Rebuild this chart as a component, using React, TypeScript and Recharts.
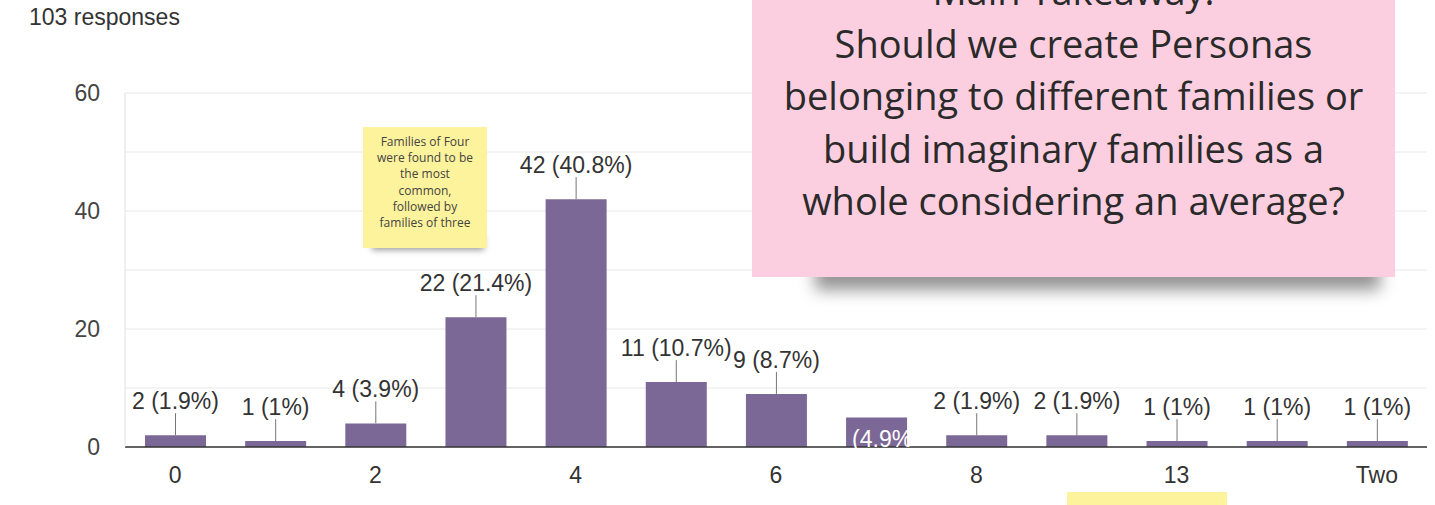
import { BarChart, Bar, XAxis, YAxis, CartesianGrid, LabelList } from "recharts";

const categories = ["0", "1", "2", "3", "4", "5", "6", "7", "8", "10", "13", "Three", "Two"];
const counts = [2, 1, 4, 22, 42, 11, 9, 5, 2, 2, 1, 1, 1];
const yTicks = [0, 10, 20, 30, 40, 50, 60];
const totalResponses = 103;
const noteLines = [
  "Main Takeaway:",
  "Should we create Personas",
  "belonging to different families or",
  "build imaginary families as a",
  "whole considering an average?",
];
const yellowNoteLines = [
  "Families of Four",
  "were found to be",
  "the most",
  "common,",
  "followed by",
  "families of three",
];

const data = categories.map((c, i) => ({ name: c, count: counts[i] }));

const pct = (v: number) => {
  const p = Math.round((v / totalResponses) * 1000) / 10;
  return `${p}%`;
};

const BAR_COLOR = "#7b6896";
const FONT = "Arial, 'Liberation Sans', sans-serif";

function BarLabel(props: any) {
  const { x, y, width, height, value, index } = props;
  const cx = x + width / 2;
  if (index === 7) {
    // in the original this label ended up inside the bar, partly hidden
    return (
      <text x={x + 6} y={y + height} fill="#ffffff" fontSize={23} fontFamily={FONT}>
        {`(${pct(value)}`}
      </text>
    );
  }
  return (
    <g>
      <line x1={cx} x2={cx} y1={y - 22} y2={y} stroke="#777" strokeWidth={1} />
      <text
        x={cx}
        y={y - 34}
        textAnchor="middle"
        dominantBaseline="central"
        fill="#333"
        fontSize={23}
        fontFamily={FONT}
      >
        {`${value} (${pct(value)})`}
      </text>
    </g>
  );
}

export default function App() {
  return (
    <div
      style={{
        position: "fixed",
        left: 0,
        top: 0,
        width: 1435,
        height: 505,
        background: "#fff",
        overflow: "hidden",
      }}
    >
      <div
        style={{
          position: "absolute",
          left: 29,
          top: 4,
          fontFamily: FONT,
          fontSize: 23,
          color: "#333",
        }}
      >
        {totalResponses} responses
      </div>

      <BarChart
        width={1435}
        height={505}
        data={data}
        margin={{ top: 93, right: 8, bottom: 28, left: 0 }}
        barSize={61}
      >
        <CartesianGrid vertical={false} stroke="#e8e8e8" />
        <XAxis
          dataKey="name"
          interval={1}
          axisLine={{ stroke: "#333", strokeWidth: 1.5 }}
          tickLine={false}
          tickSize={0}
          tickMargin={20}
          height={30}
          tick={{ fill: "#333", fontSize: 23, fontFamily: FONT }}
        />
        <YAxis
          domain={[0, 60]}
          ticks={yTicks}
          width={125}
          axisLine={{ stroke: "#e0e0e0" }}
          tickLine={false}
          tickSize={0}
          tickMargin={25}
          tickFormatter={(v) => (v % 20 === 0 ? String(v) : "")}
          tick={{ fill: "#444", fontSize: 23, fontFamily: FONT }}
        />
        <YAxis
          yAxisId="right"
          orientation="right"
          domain={[0, 60]}
          width={0}
          tick={false}
          tickLine={false}
          axisLine={{ stroke: "#e0e0e0" }}
        />
        <Bar dataKey="count" fill={BAR_COLOR} isAnimationActive={false}>
          <LabelList dataKey="count" content={BarLabel} />
        </Bar>
      </BarChart>

      {/* yellow sticky note */}
      <div
        style={{
          position: "absolute",
          left: 372,
          top: 236,
          width: 112,
          height: 14,
          background: "rgba(0,0,0,0.4)",
          filter: "blur(3px)",
        }}
      />
      <div
        style={{
          position: "absolute",
          left: 363,
          top: 127,
          width: 124,
          height: 121,
          background: "#fcf39c",
          fontFamily: "'Open Sans', sans-serif",
          fontSize: 12,
          lineHeight: "16.2px",
          color: "#444",
          textAlign: "center",
          paddingTop: 7,
          boxSizing: "border-box",
        }}
      >
        {yellowNoteLines.map((l) => (
          <div key={l} style={{ whiteSpace: "nowrap" }}>
            {l}
          </div>
        ))}
      </div>

      {/* pink sticky note */}
      <div
        style={{
          position: "absolute",
          left: 815,
          top: 260,
          width: 565,
          height: 30,
          background: "rgba(0,0,0,0.42)",
          filter: "blur(8px)",
        }}
      />
      <div
        style={{
          position: "absolute",
          left: 752,
          top: -60,
          width: 643,
          height: 337,
          background: "#fccfe0",
          fontFamily: "'Open Sans', sans-serif",
          fontSize: 38,
          lineHeight: "52.5px",
          color: "#2a2a2a",
          textAlign: "center",
          paddingTop: 24,
          boxSizing: "border-box",
        }}
      >
        {noteLines.map((l) => (
          <div key={l} style={{ whiteSpace: "nowrap" }}>
            {l}
          </div>
        ))}
      </div>

      {/* yellow strip at bottom */}
      <div
        style={{
          position: "absolute",
          left: 1067,
          top: 492,
          width: 160,
          height: 20,
          background: "#fcf39c",
        }}
      />
    </div>
  );
}
